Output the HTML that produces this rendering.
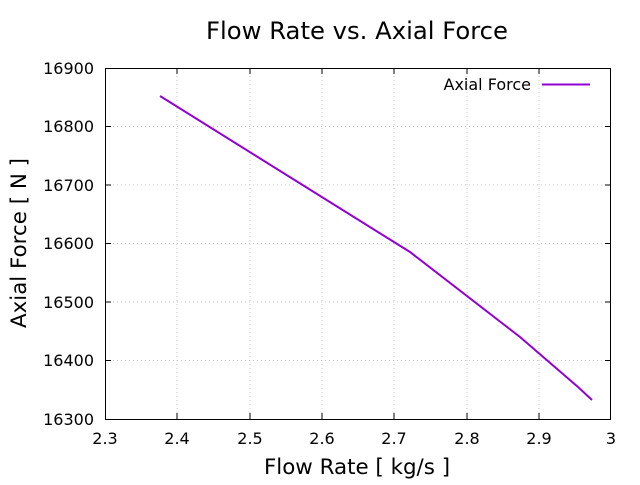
<!DOCTYPE html>
<html><head><style>body{margin:0;background:#fff}</style></head><body>
<svg width="640" height="480" xmlns="http://www.w3.org/2000/svg" font-family="DejaVu Sans, sans-serif">
<rect width="640" height="480" fill="#fff"/>
<g stroke="#c8c8c8" stroke-width="1" stroke-dasharray="1,3">
<line x1="177" y1="68" x2="177" y2="419"/><line x1="250" y1="68" x2="250" y2="419"/>
<line x1="322" y1="68" x2="322" y2="419"/><line x1="394" y1="68" x2="394" y2="419"/>
<line x1="467" y1="68" x2="467" y2="419"/><line x1="539" y1="68" x2="539" y2="419"/>
<line x1="105" y1="126.5" x2="611" y2="126.5"/><line x1="105" y1="185" x2="611" y2="185"/>
<line x1="105" y1="243.5" x2="611" y2="243.5"/><line x1="105" y1="302" x2="611" y2="302"/>
<line x1="105" y1="360.5" x2="611" y2="360.5"/>
</g>
<g stroke="#000" stroke-width="1">
<rect x="105.5" y="68.5" width="505" height="351" fill="none"/>
<path d="M177 419v-6M250 419v-6M322 419v-6M394 419v-6M467 419v-6M539 419v-6M177 68v6M250 68v6M322 68v6M394 68v6M467 68v6M539 68v6M105 126.5h6M105 185h6M105 243.5h6M105 302h6M105 360.5h6M611 126.5h-6M611 185h-6M611 243.5h-6M611 302h-6M611 360.5h-6"/>
</g>
<g font-size="16" fill="#000" text-anchor="middle">
<text x="105" y="444">2.3</text><text x="177" y="444">2.4</text><text x="250" y="444">2.5</text>
<text x="322" y="444">2.6</text><text x="394" y="444">2.7</text><text x="467" y="444">2.8</text>
<text x="539" y="444">2.9</text><text x="611" y="444">3</text>
</g>
<g font-size="16" fill="#000" text-anchor="end">
<text x="94" y="74">16900</text><text x="94" y="132">16800</text><text x="94" y="191">16700</text>
<text x="94" y="249">16600</text><text x="94" y="308">16500</text><text x="94" y="366">16400</text>
<text x="94" y="425">16300</text>
</g>
<text x="357" y="39" font-size="24.3" text-anchor="middle">Flow Rate vs. Axial Force</text>
<text x="357" y="474" font-size="21.4" text-anchor="middle">Flow Rate [ kg/s ]</text>
<text x="26" y="243" font-size="21.4" text-anchor="middle" transform="rotate(-90 26 243)">Axial Force [ N ]</text>
<text x="531" y="90" font-size="16" text-anchor="end">Axial Force</text>
<line x1="542" y1="84.5" x2="590" y2="84.5" stroke="#9400d3" stroke-width="2"/>
<polyline points="160,96 410,252 520,337 578,387 592,400" fill="none" stroke="#9400d3" stroke-width="2"/>
</svg>
</body></html>
